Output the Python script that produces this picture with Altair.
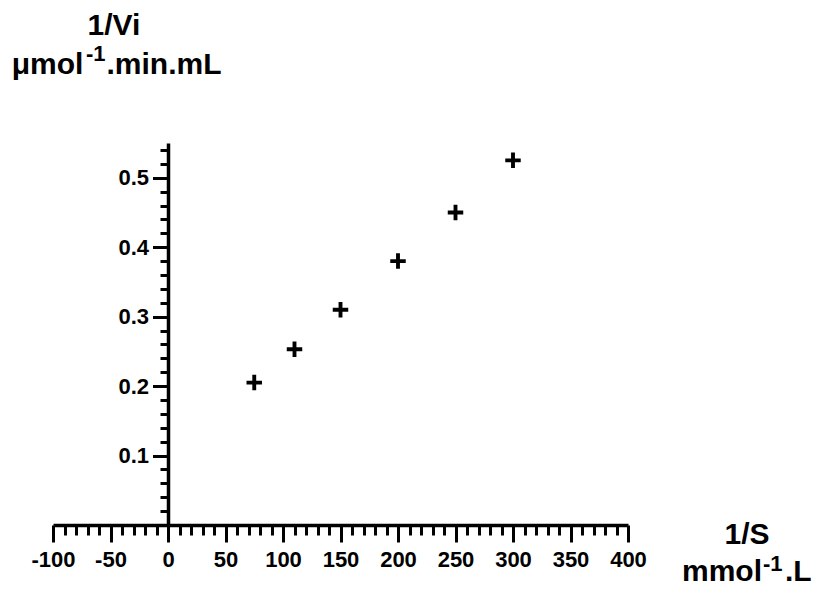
import altair as alt
import pandas as pd

# Data
inv_s = [75, 110, 150, 200, 250, 300]            # 1/S  (mmol^-1.L)
inv_v = [0.205, 0.253, 0.31, 0.38, 0.45, 0.525]  # 1/Vi (umol^-1.min.mL)

x_ticks = [v for v in range(-100, 401, 10)]
y_ticks = [round(i * 0.02, 2) for i in range(0, 28)]

# Axis titles: [line 1, line 2 before superscript, superscript, line 2 after superscript]
y_title = ["1/Vi", "μmol", "-1", ".min.mL"]
x_title = ["1/S", "mmol", "-1", ".L"]

FONT = "Liberation Sans"
W, H = 575, 382

df = pd.DataFrame({"s": inv_s, "v": inv_v})

x_major = "abs(datum.value) % 50 == 0"
y_major = "abs(round(datum.value * 100)) % 10 == 0"

plus_path = "M-1,-0.25H-0.25V-1H0.25V-0.25H1V0.25H0.25V1H-0.25V0.25H-1Z"

points = alt.Chart(df).mark_point(
    shape=plus_path, filled=True, size=240, color="black", opacity=1, strokeWidth=0
).encode(
    x=alt.X("s:Q", scale=alt.Scale(domain=[-100, 400], nice=False, zero=False),
            axis=alt.Axis(
                values=x_ticks, title=None, grid=False,
                domainColor="black", domainWidth=3.5,
                tickColor="black", tickWidth=3,
                tickSize={"condition": {"test": x_major, "value": 17}, "value": 10},
                labelExpr="abs(datum.value) % 50 == 0 ? replace(datum.label, '\u2212', '-') : ''",
                labelOverlap=False, labelFont=FONT, labelFontWeight="bold",
                labelFontSize=22, labelColor="black", labelPadding=7,
                labelFlush=False)),
    y=alt.Y("v:Q", scale=alt.Scale(domain=[0, 0.55], nice=False),
            axis=alt.Axis(
                values=y_ticks, title=None, grid=False, offset=-115,
                domainColor="black", domainWidth=3.5,
                tickColor="black", tickWidth=3,
                tickSize={"condition": {"test": y_major, "value": 15.5}, "value": 8},
                labelExpr="datum.value > 0.001 && abs(round(datum.value * 100)) % 10 == 0 ? format(datum.value, '.1f') : ''",
                labelOverlap=False, labelFont=FONT, labelFontWeight="bold",
                labelFontSize=22, labelColor="black", labelPadding=4,
                labelFlush=False)),
)


def text_layer(s, px, py, size=30, align="left"):
    return alt.Chart(pd.DataFrame({"t": [s]})).mark_text(
        font=FONT, fontWeight="bold", fontSize=size, color="black",
        align=align, baseline="alphabetic"
    ).encode(x=alt.value(px), y=alt.value(py), text="t:N")


chart = alt.layer(
    points,
    text_layer(y_title[0], 61, -108, align="center"),
    text_layer(y_title[1], -41.3, -69.5),
    text_layer(y_title[2], 33, -82, size=22),
    text_layer(y_title[3], 53.5, -69.5),
    text_layer(x_title[0], 694, 401, align="center"),
    text_layer(x_title[1], 629, 438),
    text_layer(x_title[2], 710, 428, size=22),
    text_layer(x_title[3], 732, 438),
).properties(
    width=W, height=H,
    autosize=alt.AutoSizeParams(type="none"),
    padding={"left": 45, "top": 135, "right": 185, "bottom": 63},
).configure_view(strokeOpacity=0)

chart.save("out.html", embed_options={"renderer": "svg", "actions": False})
